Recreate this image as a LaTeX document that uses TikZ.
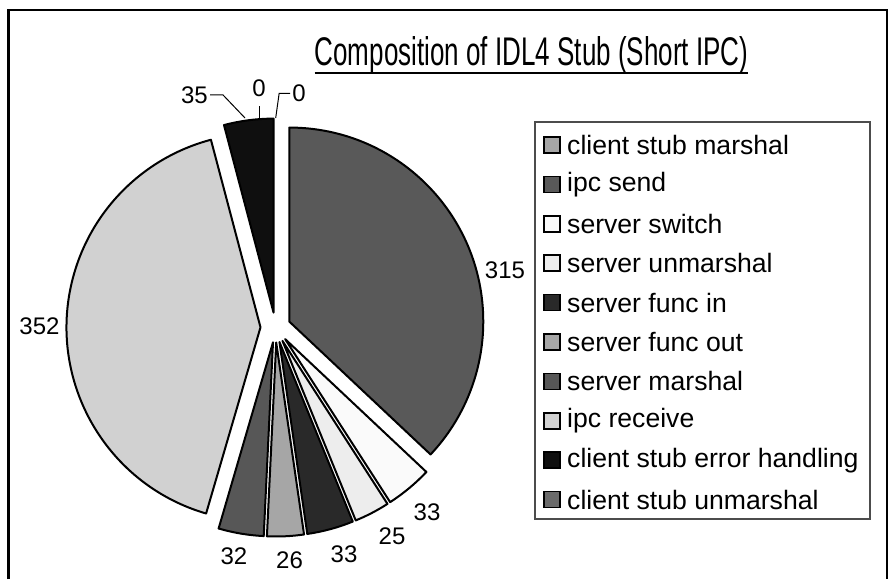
\documentclass[tikz,border=0pt]{standalone}
\usepackage{fontspec}
\setmainfont{Liberation Sans}
\usepackage{graphicx}
\usetikzlibrary{calc}

% slice grays
\definecolor{csmarshal}{gray}{0.65}
\definecolor{ipcsend}{gray}{0.35}
\definecolor{srvswitch}{gray}{0.98}
\definecolor{srvunmarshal}{gray}{0.93}
\definecolor{funcin}{gray}{0.16}
\definecolor{funcout}{gray}{0.65}
\definecolor{srvmarshal}{gray}{0.34}
\definecolor{ipcrecv}{gray}{0.82}
\definecolor{cserr}{gray}{0.06}
\definecolor{csunmarshal}{gray}{0.42}

% one exploded slice: start angle, end angle, colour
\newcommand{\pieslice}[3]{%
  \pgfmathsetmacro{\midang}{(#1+#2)/2}
  \draw[slice,fill=#3] ($(ctr)+(\midang:15pt)$) -- ++(#1:194pt)
    arc[start angle=#1, end angle=#2, radius=194pt] -- cycle;
}

\begin{document}
\begin{tikzpicture}[x=1pt,y=1pt,
  slice/.style={draw=black,line width=2pt,line join=round},
  val/.style={inner sep=0pt,font=\fontsize{24}{27}\selectfont},
  leader/.style={line width=1pt},
  legsq/.style={draw=black,line width=1.6pt,minimum size=16pt,inner sep=0pt},
  legtext/.style={anchor=west,inner sep=0pt,font=\fontsize{26.6}{30}\selectfont}]
\useasboundingbox (0,0) rectangle (891,579);
% outer frame
\draw[line width=2.5pt] (8.5,0) -- (8.5,569) -- (887,569) -- (887,0);

% title
\node[anchor=base,inner sep=0pt] (title) at (531.5,513)
  {\fontsize{40}{44}\selectfont\scalebox{0.65}[1]{Composition of IDL4 Stub (Short IPC)}};
\draw[line width=2pt] ([yshift=-7pt]title.base west) -- ([yshift=-7pt]title.base east);

% pie
\coordinate (ctr) at (275.5,251.5);
\pieslice{90}{-43.255}{ipcsend}
\pieslice{-43.255}{-57.215}{srvswitch}
\pieslice{-57.215}{-67.791}{srvunmarshal}
\pieslice{-67.791}{-81.751}{funcin}
\pieslice{-81.751}{-92.750}{funcout}
\pieslice{-92.750}{-106.287}{srvmarshal}
\pieslice{-106.287}{-255.194}{ipcrecv}
\pieslice{-255.194}{-270}{cserr}

% values
\node[val] (v315) at (505,309) {315};
\node[val] (v33a) at (427,67) {33};
\node[val] (v25) at (392,43) {25};
\node[val] (v33b) at (344,25) {33};
\node[val] (v26) at (289.5,19) {26};
\node[val] (v32) at (234,23) {32};
\node[val] (v352) at (39.5,253) {352};
\node[val] (v35) at (194.5,484) {35};
\node[val] (v0a) at (259,490.5) {0};
\node[val] (v0b) at (299,485.5) {0};
\coordinate (t35) at (245,461);
\coordinate (t0a) at (259,461);
\coordinate (t0b) at (275.7,461);
\draw[leader] ([xshift=2pt]v35.east) -- ++(13pt,0) -- (t35);
\draw[leader] ([yshift=-9pt]v0a.south) -- (t0a);
\draw[leader] ([xshift=-2pt]v0b.west) -- ++(-11pt,0) -- (t0b);

% legend
\draw[draw=black!70,line width=1.2pt] (535,60) rectangle (870,457);
\foreach \txt/\col [count=\i from 0] in {client stub marshal/csmarshal,
    ipc send/ipcsend, server switch/srvswitch, server unmarshal/srvunmarshal,
    server func in/funcin, server func out/funcout, server marshal/srvmarshal,
    ipc receive/ipcrecv, client stub error handling/cserr,
    client stub unmarshal/csunmarshal} {
  \node[legsq,fill=\col] (sq\i) at (552,434-39.4*\i) {};
  \node[legtext] (leg\i) at (567,434-39.4*\i) {\txt};
}
\end{tikzpicture}
\end{document}
